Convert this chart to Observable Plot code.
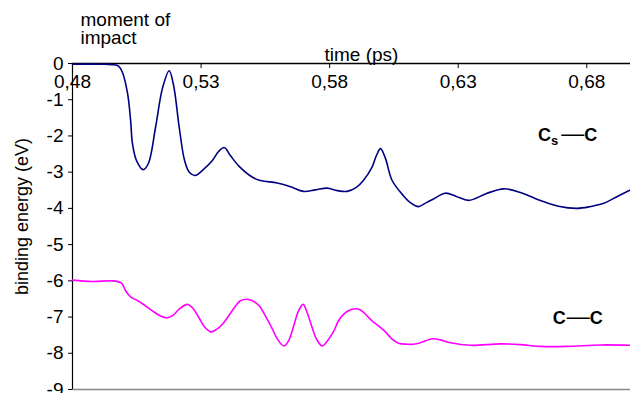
<!DOCTYPE html>
<html>
<head>
<meta charset="utf-8">
<script src="https://cdn.jsdelivr.net/npm/d3@7"></script>
<script src="https://cdn.jsdelivr.net/npm/@observablehq/plot@0.6"></script>
<style>
  html, body { margin: 0; padding: 0; background: white; }
  #chart svg { display: block; }
</style>
</head>
<body>
<div id="chart"></div>
<script>
// tick values
const xTicks = [0.48, 0.53, 0.58, 0.63, 0.68];
const yTicks = [0, -1, -2, -3, -4, -5, -6, -7, -8, -9];

// Cs—C binding energy (eV) vs time (ps)
const csTime = [0.48, 0.4909, 0.4956, 0.4979, 0.4994, 0.5014, 0.5026, 0.5033, 0.5049, 0.5075,
  0.5095, 0.5123, 0.5150, 0.5176, 0.5193, 0.5215, 0.5236, 0.5255, 0.5277, 0.5313,
  0.5344, 0.5368, 0.5390, 0.5414, 0.5448, 0.5500, 0.5531, 0.5596, 0.5648, 0.5698,
  0.5745, 0.5790, 0.5830, 0.5868, 0.5904, 0.5931, 0.5965, 0.5982, 0.5998, 0.6017,
  0.6043, 0.6087, 0.6114, 0.6146, 0.6176, 0.6204, 0.6250, 0.6293, 0.6341, 0.6410,
  0.6477, 0.6542, 0.6620, 0.6690, 0.6762, 0.6814, 0.6866, 0.6919, 0.6970];
const csEnergy = [-0.02, -0.02, -0.03, -0.07, -0.24, -0.82, -1.57, -2.20, -2.68, -2.93,
  -2.76, -1.76, -0.68, -0.20, -0.60, -1.76, -2.68, -3.01, -3.09, -2.90,
  -2.68, -2.43, -2.32, -2.54, -2.84, -3.14, -3.23, -3.30, -3.40, -3.53,
  -3.49, -3.44, -3.51, -3.53, -3.42, -3.23, -2.86, -2.54, -2.35, -2.62,
  -3.23, -3.65, -3.84, -3.95, -3.84, -3.74, -3.58, -3.67, -3.78, -3.59,
  -3.46, -3.56, -3.78, -3.94, -4.00, -3.95, -3.86, -3.67, -3.49];

// C—C binding energy (eV) vs time (ps)
const ccTime = [0.48, 0.4878, 0.4956, 0.4988, 0.4998, 0.5007, 0.5026, 0.5059, 0.5111, 0.5142,
  0.5169, 0.5193, 0.5215, 0.5247, 0.5267, 0.5292, 0.5313, 0.5338, 0.5360, 0.5383,
  0.5435, 0.5453, 0.5480, 0.5500, 0.5526, 0.5550, 0.5578, 0.5597, 0.5622, 0.5640,
  0.5660, 0.5679, 0.5697, 0.5713, 0.5732, 0.5749, 0.5771, 0.5791, 0.5816, 0.5834,
  0.5855, 0.5881, 0.5904, 0.5923, 0.5946, 0.5966, 0.5991, 0.6017, 0.6043, 0.6068,
  0.6101, 0.6126, 0.6153, 0.6199, 0.6231, 0.6270, 0.6347, 0.6464, 0.6542, 0.6620,
  0.6723, 0.6853, 0.6970];
const ccEnergy = [-5.98, -6.02, -6.00, -6.05, -6.14, -6.28, -6.44, -6.57, -6.83, -6.97,
  -7.02, -6.94, -6.78, -6.65, -6.75, -7.02, -7.27, -7.41, -7.34, -7.20,
  -6.69, -6.55, -6.51, -6.55, -6.69, -6.97, -7.34, -7.61, -7.80, -7.66,
  -7.25, -6.83, -6.65, -6.89, -7.29, -7.61, -7.80, -7.66, -7.39, -7.11,
  -6.92, -6.80, -6.77, -6.82, -6.97, -7.11, -7.25, -7.41, -7.61, -7.72,
  -7.75, -7.75, -7.71, -7.60, -7.63, -7.71, -7.78, -7.74, -7.76, -7.81,
  -7.81, -7.77, -7.78];

const cs = csTime.map((t, i) => ({time: t, energy: csEnergy[i]}));
const cc = ccTime.map((t, i) => ({time: t, energy: ccEnergy[i]}));

const fmtX = d => d.toFixed(2).replace(".", ",");
const fmtY = d => d === 0 ? "0" : "-" + Math.abs(d);
const FONT = "'Liberation Sans', Arial, Helvetica, sans-serif";
const FS = 19;

const chart = Plot.plot({
  width: 630,
  height: 393,
  marginTop: 63,
  marginLeft: 72,
  marginRight: 0,
  marginBottom: 4,
  x: {domain: [0.48, 0.697], axis: null},
  y: {domain: [-9, 0], axis: null},
  style: {fontFamily: FONT, fontSize: FS + "px", background: "white", color: "black", overflow: "visible"},
  marks: [
    Plot.ruleY([-9], {stroke: "#888", strokeWidth: 1.5}),
    Plot.ruleX([0.48], {stroke: "black", strokeWidth: 1.2}),
    Plot.ruleY([0], {stroke: "black", strokeWidth: 1.5}),
    Plot.ruleX(xTicks, {x: d => d, y1: 0, y2: -0.14, stroke: "black"}),
    Plot.text(xTicks, {x: d => d, y: 0, dy: 18, text: fmtX, fontSize: FS, fill: "black"}),
    Plot.axisY(yTicks, {tickSize: 4, tickPadding: 5, tickFormat: fmtY, fontSize: FS, label: null}),
    Plot.line(cs, {x: "time", y: "energy", stroke: "#000080", strokeWidth: 1.6, curve: "catmull-rom"}),
    Plot.line(cc, {x: "time", y: "energy", stroke: "#ff00ff", strokeWidth: 1.6, curve: "catmull-rom"}),
    Plot.text(["moment of\nimpact"], {frameAnchor: "top-left", dx: 8, dy: -50, textAnchor: "start", lineAnchor: "top", lineHeight: 0.95, fontSize: FS, fill: "black"}),
    Plot.text(["time (ps)"], {frameAnchor: "top", dx: 10, dy: -16, textAnchor: "middle", fontSize: FS, fill: "black"}),
    Plot.text(["binding energy (eV)"], {frameAnchor: "left", dx: -50, dy: -10, rotate: -90, textAnchor: "middle", fontSize: 18, fill: "black"})
  ]
});

document.getElementById("chart").appendChild(chart);

// series labels with subscript
const sx = chart.scale("x"), sy = chart.scale("y");
const svg = d3.select(chart);
const lab1 = svg.append("text")
  .attr("x", sx.apply(0.6612)).attr("y", sy.apply(-2.163))
  .attr("text-anchor", "start")
  .attr("font-family", FONT).attr("font-weight", "bold").attr("font-size", 18).attr("fill", "black");
lab1.append("tspan").text("C");
lab1.append("tspan").attr("font-size", 13).attr("dy", 4).text("s");
lab1.append("tspan").attr("dy", -4).attr("dx", 3).attr("font-size", 23).attr("font-weight", "normal").text("—");
lab1.append("tspan").text("C");

const lab2 = svg.append("text")
  .attr("x", sx.apply(0.667)).attr("y", sy.apply(-7.205))
  .attr("text-anchor", "start")
  .attr("font-family", FONT).attr("font-weight", "bold").attr("font-size", 18).attr("fill", "black");
lab2.append("tspan").text("C");
lab2.append("tspan").attr("dx", 1).attr("font-size", 23).attr("font-weight", "normal").text("—");
lab2.append("tspan").text("C");
</script>
</body>
</html>
